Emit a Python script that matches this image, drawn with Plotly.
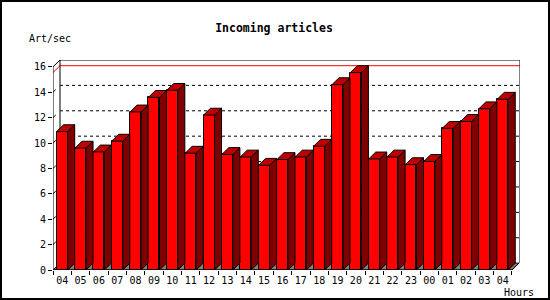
import plotly.graph_objects as go

# ---- data ----
hours = ["04", "05", "06", "07", "08", "09", "10", "11", "12", "13", "14", "15", "16",
         "17", "18", "19", "20", "21", "22", "23", "00", "01", "02", "03", "04"]
rates = [10.9, 9.6, 9.3, 10.15, 12.45, 13.6, 14.15, 9.2, 12.2, 9.1, 8.9, 8.25, 8.7,
         8.9, 9.75, 14.6, 15.55, 8.75, 8.9, 8.3, 8.55, 11.15, 11.7, 12.7, 13.45]
y_ticks = [0, 2, 4, 6, 8, 10, 12, 14, 16]
grid_vals = [2, 4, 6, 8, 10, 12, 14]

# ---- geometry (axis units) ----
W, H = 550, 300
ML, MR, MT, MB = 53, 30, 60, 30
PW, PH = W - ML - MR, H - MT - MB
n = len(rates)
XMAX = 25.44
YMAX = 16.54
dx = 7 * XMAX / PW
dy = YMAX - 16
bw = 0.6

pos = [i + 0.5 for i in range(n)]

FONT = "DejaVu Sans Mono"


def px_x(p):
    return (p - ML) / PW


def px_y(p):
    return (H - MB - p) / PH


# side and top faces
sx, sy, tx, ty = [], [], [], []
for p, v in zip(pos, rates):
    x0, x1 = p - bw / 2, p + bw / 2
    sx += [x1, x1, x1 + dx, x1 + dx, x1, None]
    sy += [0, v, v + dy, dy, 0, None]
    tx += [x0, x1, x1 + dx, x0 + dx, x0, None]
    ty += [v, v, v + dy, v + dy, v, None]

fig = go.Figure()
fig.add_trace(go.Scatter(x=sx, y=sy, mode="lines", fill="toself", fillcolor="#800000",
                         line=dict(color="black", width=1), hoverinfo="skip", showlegend=False))
fig.add_trace(go.Scatter(x=tx, y=ty, mode="lines", fill="toself", fillcolor="#C00000",
                         line=dict(color="black", width=1), hoverinfo="skip", showlegend=False))
fig.add_trace(go.Bar(x=pos, y=rates, width=bw, marker=dict(color="#FF0000",
                     line=dict(color="black", width=1)), showlegend=False))

shapes = []
# floor
shapes.append(dict(type="path", xref="x", yref="y", layer="below",
                   path=f"M 0 0 L {n} 0 L {n+dx} {dy} L {dx} {dy} Z",
                   fillcolor="#808080", line=dict(color="black", width=1)))
# back gridlines (dotted)
for g in grid_vals:
    shapes.append(dict(type="line", xref="x", yref="y", layer="below",
                       x0=dx, x1=XMAX, y0=g + dy, y1=g + dy,
                       line=dict(color="black", width=1, dash="dot")))
# max line (red)
mx = max(rates)
shapes.append(dict(type="line", xref="x", yref="y", layer="below",
                   x0=dx, x1=XMAX, y0=mx + dy, y1=mx + dy, line=dict(color="#FF0000", width=1)))
shapes.append(dict(type="line", xref="x", yref="y", layer="below",
                   x0=0, x1=dx, y0=mx, y1=mx + dy, line=dict(color="#FF0000", width=1)))
# back wall frame
shapes.append(dict(type="path", xref="x", yref="y", layer="below",
                   path=f"M {dx} {dy} L {dx} {YMAX} L {XMAX} {YMAX} L {XMAX} {dy}",
                   line=dict(color="black", width=1)))
# front axes
shapes.append(dict(type="line", xref="x", yref="y", x0=0, x1=0, y0=0, y1=16,
                   line=dict(color="black", width=1)))
shapes.append(dict(type="line", xref="x", yref="y", x0=0, x1=dx, y0=16, y1=16 + dy,
                   line=dict(color="black", width=1)))
shapes.append(dict(type="line", xref="x", yref="y", x0=0, x1=n, y0=0, y1=0,
                   line=dict(color="black", width=1)))
shapes.append(dict(type="line", xref="x", yref="y", x0=n, x1=n + dx, y0=0, y1=dy,
                   line=dict(color="black", width=1)))
# short diagonal tick marks on the side wall
for t in y_ticks[1:-1]:
    shapes.append(dict(type="line", xref="x", yref="y", layer="below",
                       x0=0, x1=dx * 0.4, y0=t, y1=t + dy * 0.4,
                       line=dict(color="black", width=1)))
# outer image border
shapes.append(dict(type="rect", xref="paper", yref="paper",
                   x0=px_x(1), x1=px_x(W - 1), y0=px_y(H - 1), y1=px_y(1),
                   line=dict(color="black", width=2)))

annotations = [
    dict(text="Art/sec", xref="paper", yref="paper", x=px_x(50), y=px_y(39),
         showarrow=False, font=dict(family=FONT, size=10, color="black"),
         xanchor="center", yanchor="middle"),
    dict(text="Hours", xref="paper", yref="paper", x=px_x(519), y=px_y(292.5),
         showarrow=False, font=dict(family=FONT, size=10, color="black"),
         xanchor="center", yanchor="middle"),
]

fig.update_layout(
    width=W, height=H,
    margin=dict(l=ML, r=MR, t=MT, b=MB),
    paper_bgcolor="white", plot_bgcolor="white",
    title=dict(text="<b>Incoming articles</b>", x=274 / W, y=1 - 28 / H,
               xanchor="center", yanchor="middle",
               font=dict(family=FONT, size=11.5, color="black")),
    xaxis=dict(range=[0, XMAX], tickvals=pos, ticktext=hours, ticks="", showgrid=False,
               zeroline=False, showline=False, ticklabelstandoff=3,
               tickfont=dict(family=FONT, size=10, color="black"),
               minor=dict(ticks="outside", tickvals=list(range(n + 1)), ticklen=4,
                          tickcolor="black", tickwidth=1, showgrid=False)),
    yaxis=dict(range=[0, YMAX], tickvals=y_ticks, ticks="outside", ticklen=4,
               tickcolor="black", showgrid=False, zeroline=False, showline=False,
               tickfont=dict(family=FONT, size=10, color="black")),
    shapes=shapes,
    annotations=annotations,
    bargap=0,
)

fig.write_html("out.html")
